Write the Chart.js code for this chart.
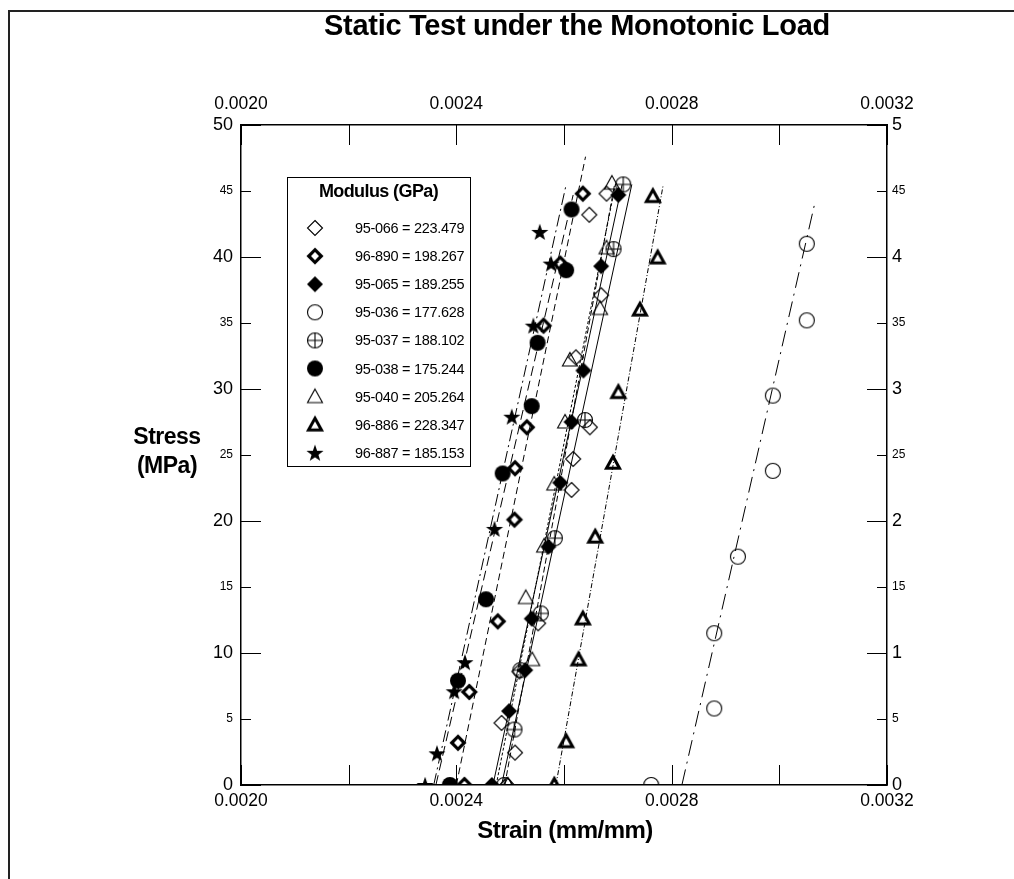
<!DOCTYPE html>
<html>
<head>
<meta charset="utf-8">
<script src="https://cdn.jsdelivr.net/npm/chart.js@4.4.1/dist/chart.umd.min.js"></script>
<style>
  html, body { margin: 0; padding: 0; background: #fff; }
  #wrap { position: relative; width: 1014px; height: 879px; overflow: hidden; }
  #frame { position: absolute; left: 8px; top: 10px; width: 1010px; height: 900px; border-top: 2px solid #222; border-left: 2px solid #222; }
  .lbl { position: absolute; font-family: 'Liberation Sans', Arial, sans-serif; font-weight: bold; color: #000; white-space: nowrap; }
  #title { left: 577px; top: 9px; transform: translateX(-50%); font-size: 29px; letter-spacing: -0.3px; }
  #ylab { left: 167px; top: 422px; transform: translateX(-50%); font-size: 23px; line-height: 29px; text-align: center; letter-spacing: -0.5px; }
  #xlab { left: 565px; top: 816px; transform: translateX(-50%); font-size: 24px; letter-spacing: -0.5px; }
  canvas { position: absolute; left: 0; top: 0; }
</style>
</head>
<body>
<div id="wrap">
  <div id="frame"></div>
  <canvas id="chart" width="1014" height="879"></canvas>
  <div class="lbl" id="title">Static Test under the Monotonic Load</div>
  <div class="lbl" id="ylab">Stress<br>(MPa)</div>
  <div class="lbl" id="xlab">Strain (mm/mm)</div>
</div>
<script>
// specimen ids and fitted modulus (GPa)
const specimens = ['95-066', '96-890', '95-065', '95-036', '95-037', '95-038', '95-040', '96-886', '96-887'];
const moduli = [223.479, 198.267, 189.255, 177.628, 188.102, 175.244, 205.264, 228.347, 185.153];

// measured points: strain (mm/mm) and stress (MPa)
const s95066Strain = [0.002494, 0.002509, 0.002484, 0.002517, 0.002552, 0.002614, 0.002617, 0.002648, 0.002622, 0.002669, 0.002647, 0.002679];
const s95066Stress = [0, 2.45, 4.7, 8.6, 12.25, 22.35, 24.7, 27.1, 32.4, 37.1, 43.2, 44.8];
const s96890Strain = [0.002415, 0.002403, 0.002424, 0.002477, 0.002508, 0.002509, 0.002531, 0.002562, 0.002593, 0.002635];
const s96890Stress = [0, 3.2, 7.05, 12.4, 20.1, 24.0, 27.1, 34.8, 39.5, 44.8];
const s95065Strain = [0.002466, 0.002498, 0.002528, 0.002540, 0.002571, 0.002593, 0.002614, 0.002636, 0.002669, 0.002701];
const s95065Stress = [0, 5.6, 8.7, 12.6, 18.05, 22.9, 27.5, 31.4, 39.3, 44.7];
const s95036Strain = [0.002762, 0.002879, 0.002879, 0.002923, 0.002988, 0.002988, 0.003051, 0.003051];
const s95036Stress = [0, 5.8, 11.5, 17.3, 23.8, 29.5, 35.2, 41.0];
const s95037Strain = [0.002489, 0.002508, 0.002519, 0.002557, 0.002583, 0.002639, 0.002692, 0.002710];
const s95037Stress = [0, 4.2, 8.7, 13.0, 18.7, 27.65, 40.6, 45.5];
const s95038Strain = [0.002388, 0.002403, 0.002455, 0.002486, 0.002540, 0.002551, 0.002604, 0.002614];
const s95038Stress = [0, 7.9, 14.07, 23.6, 28.7, 33.5, 39.0, 43.6];
const s95040Strain = [0.002496, 0.002541, 0.002529, 0.002563, 0.002582, 0.002602, 0.002611, 0.002667, 0.002679, 0.002689];
const s95040Stress = [0, 9.5, 14.2, 18.1, 22.8, 27.5, 32.2, 36.1, 40.7, 45.6];
const s96886Strain = [0.002582, 0.002604, 0.002627, 0.002635, 0.002658, 0.002691, 0.002701, 0.002741, 0.002774, 0.002765];
const s96886Stress = [0, 3.3, 9.5, 12.6, 18.8, 24.4, 29.75, 36.0, 39.95, 44.6];
const s96887Strain = [0.002342, 0.002364, 0.002396, 0.002416, 0.002471, 0.002503, 0.002543, 0.002576, 0.002555];
const s96887Stress = [0, 2.4, 7.1, 9.3, 19.4, 27.9, 34.8, 39.5, 41.9];

// fit lines: strain at zero stress, strain and stress at the top end
const fitStrainStart = [0.002490, 0.002400, 0.002468, 0.002819, 0.002484, 0.002362, 0.002474, 0.002585, 0.002358];
const fitStrainEnd = [0.002694, 0.002640, 0.002708, 0.003066, 0.002726, 0.002617, 0.002696, 0.002784, 0.002603];
const fitStressEnd = [45.5, 47.6, 45.5, 44.1, 45.5, 44.7, 45.6, 45.4, 45.3];

// axis ranges / ticks
const strainMin = 0.0020, strainMax = 0.0032, strainStep = 0.0002;
const stressMin = 0, stressMax = 50, stressStep = 5;

const allStrain = [s95066Strain, s96890Strain, s95065Strain, s95036Strain, s95037Strain, s95038Strain, s95040Strain, s96886Strain, s96887Strain];
const allStress = [s95066Stress, s96890Stress, s95065Stress, s95036Stress, s95037Stress, s95038Stress, s95040Stress, s96886Stress, s96887Stress];

const markerKinds = ['diamond', 'diamondBold', 'diamondFill', 'circle', 'circleCross', 'circleFill', 'triangle', 'triangleBold', 'star'];
const lineDashes = [[6, 3], [7, 4], [], [16, 6, 2, 6], [], [10, 5], [3, 2], [5, 2, 1, 2], [12, 4, 2, 4]];

const FONT = "'Liberation Sans', Arial, sans-serif";

function makeMarker(kind) {
    const c = document.createElement('canvas');
    c.width = 22;
    c.height = 22;
    const g = c.getContext('2d');
    g.translate(11, 11);
    g.strokeStyle = '#000';
    g.fillStyle = '#000';
    g.lineJoin = 'miter';
    g.beginPath();
    if (kind.startsWith('diamond')) {
        const r = kind === 'diamondBold' ? 6.3 : (kind === 'diamondFill' ? 8 : 7.5);
        g.moveTo(0, -r); g.lineTo(r, 0); g.lineTo(0, r); g.lineTo(-r, 0); g.closePath();
        if (kind === 'diamondFill') { g.fill(); } else { g.lineWidth = kind === 'diamondBold' ? 3.2 : 1.1; g.stroke(); }
    } else if (kind.startsWith('circle')) {
        const r = kind === 'circleFill' ? 8 : 7.5;
        g.arc(0, 0, r, 0, Math.PI * 2);
        if (kind === 'circleFill') { g.fill(); } else {
            g.lineWidth = 1.1;
            if (kind === 'circleCross') { g.moveTo(-r, 0); g.lineTo(r, 0); g.moveTo(0, -r); g.lineTo(0, r); }
            g.stroke();
        }
    } else if (kind.startsWith('triangle')) {
        const r = kind === 'triangleBold' ? 6.5 : 7.5;
        g.moveTo(0, -r); g.lineTo(r, r * 0.8); g.lineTo(-r, r * 0.8); g.closePath();
        g.lineWidth = kind === 'triangleBold' ? 3 : 1.1;
        g.stroke();
    } else if (kind === 'star') {
        for (let k = 0; k < 10; k++) {
            const rr = k % 2 === 0 ? 9 : 3.6;
            const a = -Math.PI / 2 + k * Math.PI / 5;
            if (k === 0) g.moveTo(rr * Math.cos(a), rr * Math.sin(a) + 0.8);
            else g.lineTo(rr * Math.cos(a), rr * Math.sin(a) + 0.8);
        }
        g.closePath();
        g.fill();
    }
    return c;
}

const markers = markerKinds.map(makeMarker);
const labels = specimens.map((s, i) => `${s} = ${moduli[i].toFixed(3)}`);

const datasets = [];
specimens.forEach((s, i) => {
    datasets.push({
        label: labels[i],
        data: allStrain[i].map((x, j) => ({ x: x, y: allStress[i][j] })),
        showLine: false,
        pointStyle: markers[i],
        pointRadius: 8,
        order: 0,
    });
});
specimens.forEach((s, i) => {
    datasets.push({
        label: 'fit ' + s,
        data: [{ x: fitStrainStart[i], y: 0 }, { x: fitStrainEnd[i], y: fitStressEnd[i] }],
        showLine: true,
        borderColor: '#000',
        borderWidth: 1,
        borderDash: lineDashes[i],
        pointRadius: 0,
        fill: false,
        order: 1,
    });
});

const innerTicks = {
    id: 'innerTicks',
    afterDatasetsDraw(chart) {
        const { ctx, chartArea: a, scales } = chart;
        ctx.save();
        ctx.strokeStyle = '#000';
        ctx.lineWidth = 1;
        ctx.beginPath();
        scales.x.ticks.forEach(t => {
            const px = Math.round(scales.x.getPixelForValue(t.value)) + 0.5;
            ctx.moveTo(px, a.bottom); ctx.lineTo(px, a.bottom - 20);
        });
        scales.x2.ticks.forEach(t => {
            const px = Math.round(scales.x2.getPixelForValue(t.value)) + 0.5;
            ctx.moveTo(px, a.top); ctx.lineTo(px, a.top + 20);
        });
        scales.y.ticks.forEach(t => {
            const py = Math.round(scales.y.getPixelForValue(t.value)) + 0.5;
            const len = t.value % 10 === 0 ? 20 : 10;
            ctx.moveTo(a.left, py); ctx.lineTo(a.left + len, py);
        });
        scales.y2.ticks.forEach(t => {
            const py = Math.round(scales.y2.getPixelForValue(t.value)) + 0.5;
            const len = t.value % 10 === 0 ? 20 : 10;
            ctx.moveTo(a.right, py); ctx.lineTo(a.right - len, py);
        });
        ctx.stroke();
        ctx.restore();
    }
};

const boxLegend = {
    id: 'boxLegend',
    afterDraw(chart) {
        const { ctx, chartArea: a } = chart;
        const x0 = a.left + 46, y0 = a.top + 52, w = 183, h = 289;
        ctx.save();
        ctx.fillStyle = '#fff';
        ctx.fillRect(x0, y0, w, h);
        ctx.strokeStyle = '#000';
        ctx.lineWidth = 1;
        ctx.strokeRect(x0 + 0.5, y0 + 0.5, w, h);
        ctx.fillStyle = '#000';
        ctx.textBaseline = 'middle';
        ctx.textAlign = 'center';
        ctx.font = `bold 18px ${FONT}`;
        ctx.letterSpacing = '-0.6px';
        ctx.fillText('Modulus (GPa)', x0 + w / 2, y0 + 15);
        ctx.textAlign = 'left';
        ctx.font = `14.5px ${FONT}`;
        ctx.letterSpacing = '-0.3px';
        for (let i = 0; i < specimens.length; i++) {
            const y = y0 + 51 + i * 28.1;
            const m = markers[i];
            ctx.drawImage(m, x0 + 28 - m.width / 2, y - m.height / 2);
            ctx.fillText(chart.data.datasets[i].label, x0 + 68, y + 1);
        }
        ctx.restore();
    }
};

const tickFontY = (c) => ({ family: FONT, size: c.tick && c.tick.value % 10 === 0 ? 18 : 12 });
const xTickCallback = (v, i) => (i % 2 === 0 ? Number(v).toFixed(4) : '');

new Chart(document.getElementById('chart'), {
    type: 'scatter',
    data: { datasets: datasets },
    options: {
        responsive: false,
        animation: false,
        events: [],
        layout: { padding: 0 },
        plugins: { legend: { display: false }, tooltip: { enabled: false } },
        scales: {
            x: {
                type: 'linear', position: 'bottom', min: strainMin, max: strainMax,
                ticks: { stepSize: strainStep, autoSkip: false, maxRotation: 0, callback: xTickCallback, color: '#000', font: { family: FONT, size: 17.5 }, padding: 6 },
                grid: { display: false, drawTicks: false },
                border: { display: true, color: '#000', width: 1.5 },
                afterFit: (s) => { s.height = 94; }
            },
            x2: {
                type: 'linear', position: 'top', min: strainMin, max: strainMax,
                ticks: { stepSize: strainStep, autoSkip: false, maxRotation: 0, callback: xTickCallback, color: '#000', font: { family: FONT, size: 17.5 }, padding: 10 },
                grid: { display: false, drawTicks: false },
                border: { display: true, color: '#000', width: 1.5 },
                afterFit: (s) => { s.height = 125; }
            },
            y: {
                type: 'linear', position: 'left', min: stressMin, max: stressMax,
                ticks: { stepSize: stressStep, color: '#000', font: tickFontY, padding: 8 },
                grid: { display: false, drawTicks: false },
                border: { display: true, color: '#000', width: 1.5 },
                afterFit: (s) => { s.width = 241; }
            },
            y2: {
                type: 'linear', position: 'right', min: stressMin, max: stressMax,
                ticks: { stepSize: stressStep, color: '#000', font: tickFontY, padding: 5, callback: (v) => (v % 10 === 0 ? v / 10 : v) },
                grid: { display: false, drawTicks: false },
                border: { display: true, color: '#000', width: 1.5 },
                afterFit: (s) => { s.width = 127; }
            }
        }
    },
    plugins: [innerTicks, boxLegend]
});
</script>
</body>
</html>
